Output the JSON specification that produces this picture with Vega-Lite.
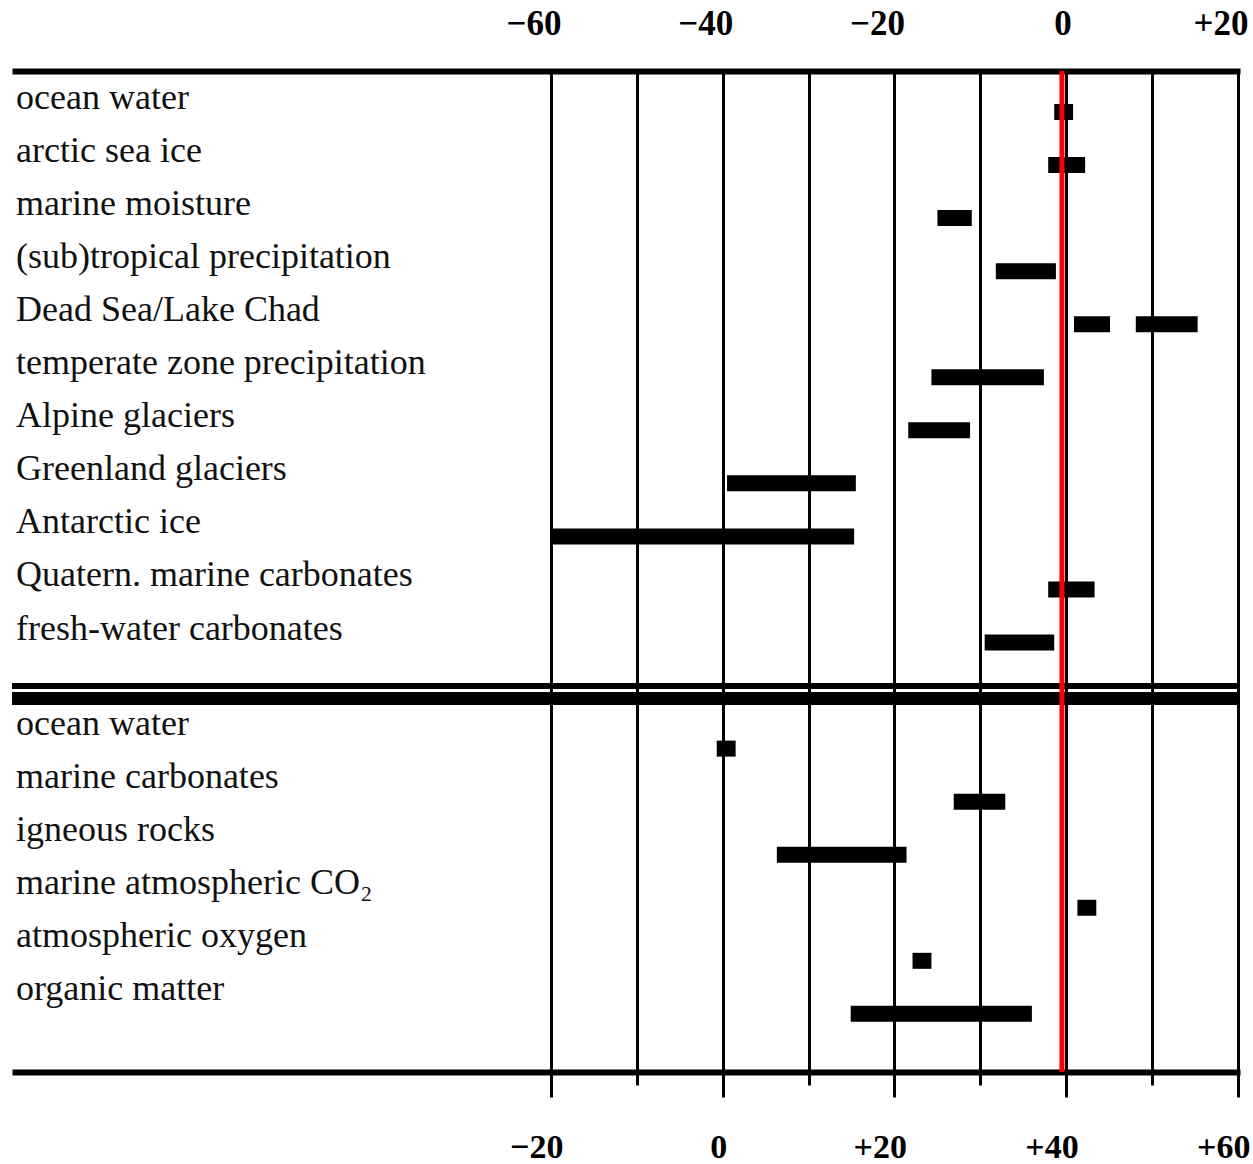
{
  "$schema": "https://vega.github.io/schema/vega-lite/v6.json",
  "width": 1228,
  "height": 1001,
  "autosize": {"type": "none"},
  "padding": {"left": 12, "top": 71, "right": 13, "bottom": 92},
  "background": "white",
  "config": {"view": {"stroke": null}, "font": "Liberation Serif"},
  "datasets": {
    "rows": [
      {"panel": "upper", "id": "t01", "label": "ocean water"},
      {"panel": "upper", "id": "t02", "label": "arctic sea ice"},
      {"panel": "upper", "id": "t03", "label": "marine moisture"},
      {"panel": "upper", "id": "t04", "label": "(sub)tropical precipitation"},
      {"panel": "upper", "id": "t05", "label": "Dead Sea/Lake Chad"},
      {"panel": "upper", "id": "t06", "label": "temperate zone precipitation"},
      {"panel": "upper", "id": "t07", "label": "Alpine glaciers"},
      {"panel": "upper", "id": "t08", "label": "Greenland glaciers"},
      {"panel": "upper", "id": "t09", "label": "Antarctic ice"},
      {"panel": "upper", "id": "t10", "label": "Quatern. marine carbonates"},
      {"panel": "upper", "id": "t11", "label": "fresh-water carbonates"},
      {"panel": "lower", "id": "b01", "label": "ocean water"},
      {"panel": "lower", "id": "b02", "label": "marine carbonates"},
      {"panel": "lower", "id": "b03", "label": "igneous rocks"},
      {"panel": "lower", "id": "b04", "label": "marine atmospheric CO₂"},
      {"panel": "lower", "id": "b05", "label": "atmospheric oxygen"},
      {"panel": "lower", "id": "b06", "label": "organic matter"}
    ],
    "bars": [
      {"panel": "upper", "id": "t01", "lo": -1.4, "hi": 0.8},
      {"panel": "upper", "id": "t02", "lo": -2.1, "hi": 2.2},
      {"panel": "upper", "id": "t03", "lo": -15.0, "hi": -11.0},
      {"panel": "upper", "id": "t04", "lo": -8.2, "hi": -1.2},
      {"panel": "upper", "id": "t05", "lo": 0.9, "hi": 5.1},
      {"panel": "upper", "id": "t05", "lo": 8.1, "hi": 15.3},
      {"panel": "upper", "id": "t06", "lo": -15.7, "hi": -2.6},
      {"panel": "upper", "id": "t07", "lo": -18.4, "hi": -11.2},
      {"panel": "upper", "id": "t08", "lo": -39.5, "hi": -24.5},
      {"panel": "upper", "id": "t09", "lo": -60.0, "hi": -24.7},
      {"panel": "upper", "id": "t10", "lo": -2.1, "hi": 3.3},
      {"panel": "upper", "id": "t11", "lo": -9.5, "hi": -1.4},
      {"panel": "lower", "id": "b01", "lo": -0.7, "hi": 1.5},
      {"panel": "lower", "id": "b02", "lo": 26.9, "hi": 32.9},
      {"panel": "lower", "id": "b03", "lo": 6.3, "hi": 21.4},
      {"panel": "lower", "id": "b04", "lo": 41.3, "hi": 43.5},
      {"panel": "lower", "id": "b05", "lo": 22.1, "hi": 24.3},
      {"panel": "lower", "id": "b06", "lo": 14.9, "hi": 36.0}
    ],
    "refs": [
      {"kind": "separator", "id": "sep"}
    ]
  },
  "layer": [
    {
      "layer": [
        {
          "data": {"name": "bars"},
          "transform": [{"filter": "datum.panel == 'upper'"}],
          "mark": {"type": "bar", "color": "black", "height": 16},
          "encoding": {
            "x": {
              "field": "lo", "type": "quantitative",
              "scale": {"domain": [-122.766, 20.234], "nice": false, "zero": false},
              "axis": {
                "orient": "top", "title": null,
                "values": [-60, -50, -40, -30, -20, -10, 0, 10, 20],
                "grid": true, "gridColor": "black", "gridWidth": 3, "gridOpacity": 1,
                "ticks": false,
                "domain": true, "domainColor": "black", "domainWidth": 6,
                "labelFont": "Liberation Serif", "labelFontWeight": "bold", "labelFontSize": 35,
                "labelColor": "black", "labelPadding": 30,
                "labelAlign": "right",
                "labelOffset": {"condition": {"test": "datum.value == 0", "value": 5}, "value": 10},
                "labelFlush": false, "labelOverlap": false, "labelBound": false,
                "labelExpr": "datum.value % 20 != 0 ? '' : (datum.value > 0 ? '+' + datum.value : (datum.value < 0 ? '−' + (-datum.value) : '0'))"
              }
            },
            "x2": {"field": "hi"},
            "y": {
              "field": "id", "type": "nominal",
              "scale": {"domain": ["t01","t02","t03","t04","t05","t06","t07","t08","t09","t10","t11","sep","b01","b02","b03","b04","b05","b06"], "paddingInner": 0, "paddingOuter": 0.4345, "align": 0.3145},
              "axis": null
            }
          }
        },
        {
          "data": {"name": "rows"},
          "transform": [{"filter": "datum.panel == 'upper'"}],
          "mark": {"type": "text", "align": "left", "baseline": "alphabetic", "dy": -3, "font": "Liberation Serif", "fontSize": 36, "color": "#111"},
          "encoding": {
            "x": {"datum": -122.3},
            "y": {"field": "id", "type": "nominal", "axis": null},
            "text": {"field": "label"}
          }
        },
        {
          "data": {"name": "refs"},
          "mark": {"type": "rule", "color": "black", "strokeWidth": 6},
          "encoding": {"y": {"field": "id", "type": "nominal", "bandPosition": 0.3195, "axis": null}}
        },
        {
          "data": {"name": "refs"},
          "mark": {"type": "rule", "color": "black", "strokeWidth": 13},
          "encoding": {"y": {"field": "id", "type": "nominal", "bandPosition": 0.555, "axis": null}}
        },
        {
          "data": {"name": "refs"},
          "mark": {"type": "rule", "color": "#ff0000", "strokeWidth": 5, "y2Offset": 11},
          "encoding": {"x": {"datum": -0.5}}
        }
      ]
    },
    {
      "layer": [
        {
          "data": {"name": "bars"},
          "transform": [{"filter": "datum.panel == 'lower'"}],
          "mark": {"type": "bar", "color": "black", "height": 16},
          "encoding": {
            "x": {
              "field": "lo", "type": "quantitative",
              "scale": {"domain": [-82.766, 60.234], "nice": false, "zero": false},
              "axis": {
                "orient": "bottom", "title": null,
                "values": [-20, -10, 0, 10, 20, 30, 40, 50, 60],
                "grid": false,
                "ticks": true, "tickColor": "black", "tickWidth": 3,
                "tickSize": {"condition": {"test": "datum.value % 20 == 0", "value": 25}, "value": 13},
                "domain": true, "domainColor": "black", "domainWidth": 6,
                "labelFont": "Liberation Serif", "labelFontWeight": "bold", "labelFontSize": 34,
                "labelColor": "black", "labelPadding": 33,
                "labelAlign": "right",
                "labelOffset": {"condition": {"test": "datum.value == 0", "value": 4}, "value": 12},
                "labelFlush": false, "labelOverlap": false, "labelBound": false,
                "labelExpr": "datum.value % 20 != 0 ? '' : (datum.value > 0 ? '+' + datum.value : (datum.value < 0 ? '−' + (-datum.value) : '0'))"
              }
            },
            "x2": {"field": "hi"},
            "y": {"field": "id", "type": "nominal", "axis": null}
          }
        },
        {
          "data": {"name": "rows"},
          "transform": [{"filter": "datum.panel == 'lower'"}],
          "mark": {"type": "text", "align": "left", "baseline": "alphabetic", "dy": -14, "font": "Liberation Serif", "fontSize": 36, "color": "#111"},
          "encoding": {
            "x": {"datum": -82.3},
            "y": {"field": "id", "type": "nominal", "axis": null},
            "text": {"field": "label"}
          }
        }
      ]
    }
  ],
  "resolve": {"scale": {"x": "independent"}, "axis": {"x": "independent"}}
}
